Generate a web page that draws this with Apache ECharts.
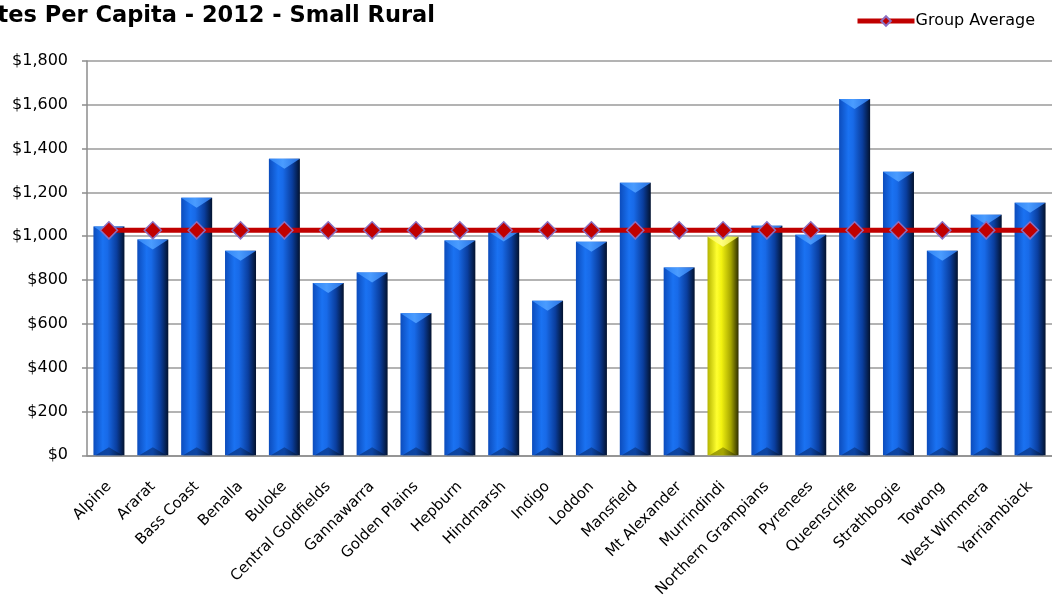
<!DOCTYPE html>
<html>
<head>
<meta charset="utf-8">
<script src="https://cdn.jsdelivr.net/npm/echarts@6/dist/echarts.min.js"></script>
<style>
  html, body { margin: 0; padding: 0; background: #fff; }
  #chart { width: 1052px; height: 600px; }
</style>
</head>
<body>
<div id="chart"></div>
<script>
// Rates per capita by council, 2012, small rural group
const councils = ['Alpine', 'Ararat', 'Bass Coast', 'Benalla', 'Buloke', 'Central Goldfields',
  'Gannawarra', 'Golden Plains', 'Hepburn', 'Hindmarsh', 'Indigo', 'Loddon', 'Mansfield',
  'Mt Alexander', 'Murrindindi', 'Northern Grampians', 'Pyrenees', 'Queenscliffe',
  'Strathbogie', 'Towong', 'West Wimmera', 'Yarriambiack'];
const ratesPerCapita = [1045, 985, 1176, 934, 1354, 786, 834, 648, 980, 1022, 706, 975, 1244,
  857, 998, 1048, 1007, 1627, 1294, 934, 1098, 1153];
const groupAverage = [1027, 1027, 1027, 1027, 1027, 1027, 1027, 1027, 1027, 1027, 1027, 1027,
  1027, 1027, 1027, 1027, 1027, 1027, 1027, 1027, 1027, 1027];
const highlighted = 'Murrindindi';
const yTicks = { min: 0, max: 1800, interval: 200 };

const FONT = '"DejaVu Sans", "Open Sans", sans-serif';
const BAR_WIDTH = 31;

function hGradient(stops) {
  return new echarts.graphic.LinearGradient(0, 0, 1, 0,
    stops.map(([offset, color]) => ({ offset, color })));
}
const palette = {
  blue: {
    body: () => hGradient([[0, '#0c4cbc'], [0.3, '#1a72f2'], [0.45, '#186ae8'], [0.75, '#0a3e9e'], [1, '#03122e']]),
    cap: () => hGradient([[0, '#3084f4'], [0.45, '#4a9cff'], [1, '#2870e0']]),
    base: () => hGradient([[0, '#0a3a8c'], [0.5, '#0b3f98'], [1, '#051838']])
  },
  yellow: {
    body: () => hGradient([[0, '#b4b400'], [0.3, '#ffff30'], [0.45, '#f2f210'], [0.75, '#a6a600'], [1, '#2e2e00']]),
    cap: () => hGradient([[0, '#fafa50'], [0.45, '#ffff80'], [1, '#e0e030']]),
    base: () => hGradient([[0, '#8a8a00'], [0.5, '#9a9a00'], [1, '#3a3a00']])
  }
};
const paletteFor = name => (name === highlighted ? palette.yellow : palette.blue);

// Each bar: shaded body with a bevelled cap and base, positioned through the axis scales
function renderBar(params, api) {
  const idx = api.value(0);
  const top = api.coord([idx, api.value(1)]);
  const bottom = api.coord([idx, 0]);
  const half = BAR_WIDTH / 2;
  const x0 = top[0] - half, x1 = top[0] + half;
  const pal = paletteFor(councils[idx]);
  const capH = 10, baseH = 8;
  return {
    type: 'group',
    children: [
      {
        type: 'rect',
        shape: { x: x0, y: top[1], width: BAR_WIDTH, height: bottom[1] - top[1] },
        style: { fill: pal.body() }
      },
      {
        type: 'polygon',
        shape: { points: [[x0, top[1]], [x1, top[1]], [top[0], top[1] + capH]] },
        style: { fill: pal.cap() }
      },
      {
        type: 'polygon',
        shape: { points: [[x0 + 2, bottom[1]], [x1 - 2, bottom[1]], [bottom[0], bottom[1] - baseH]] },
        style: { fill: pal.base(), opacity: 0.85 }
      }
    ]
  };
}

const chart = echarts.init(document.getElementById('chart'));
chart.setOption({
  animation: false,
  textStyle: { fontFamily: FONT },
  title: {
    text: 'Rates Per Capita - 2012 - Small Rural',
    left: -40, top: 0,
    textStyle: { fontFamily: FONT, fontSize: 22.5, fontWeight: 'bold', color: '#000' }
  },
  legend: {
    right: 12, top: 8,
    itemWidth: 57, itemHeight: 12,
    itemGap: 2,
    data: ['Group Average'],
    lineStyle: { width: 5 },
    textStyle: { fontFamily: FONT, fontSize: 16, color: '#000', padding: [0, 0, 0, -4] }
  },
  grid: { left: 87, right: -8, top: 61, bottom: 144, containLabel: false },
  xAxis: {
    type: 'category',
    data: councils,
    axisLine: { lineStyle: { color: '#8c8c8c', width: 1.5 } },
    axisTick: { length: 5, lineStyle: { color: '#8c8c8c', width: 1.5 } },
    axisLabel: { rotate: 45, interval: 0, fontSize: 15, color: '#000', margin: 29, fontFamily: FONT }
  },
  yAxis: {
    type: 'value',
    min: yTicks.min, max: yTicks.max, interval: yTicks.interval,
    axisLine: { show: true, lineStyle: { color: '#8c8c8c', width: 1.5 } },
    axisTick: { show: true, length: 5, lineStyle: { color: '#8c8c8c', width: 1.5 } },
    splitLine: { lineStyle: { color: '#9a9a9a', width: 1.5 } },
    axisLabel: {
      fontSize: 16, color: '#000', margin: 19, fontFamily: FONT,
      formatter: v => '$' + v.toLocaleString('en-US')
    }
  },
  series: [
    {
      name: 'Rates Per Capita',
      type: 'custom',
      data: ratesPerCapita.map((v, i) => [i, v]),
      encode: { x: 0, y: 1 },
      renderItem: renderBar,
      z: 2
    },
    {
      name: 'Group Average',
      type: 'line',
      data: groupAverage,
      symbol: 'diamond',
      symbolSize: 17,
      lineStyle: { color: '#c00000', width: 5 },
      itemStyle: { color: '#c00000', borderColor: '#8a6fc0', borderWidth: 1.5 },
      z: 3
    }
  ]
});
</script>
</body>
</html>
